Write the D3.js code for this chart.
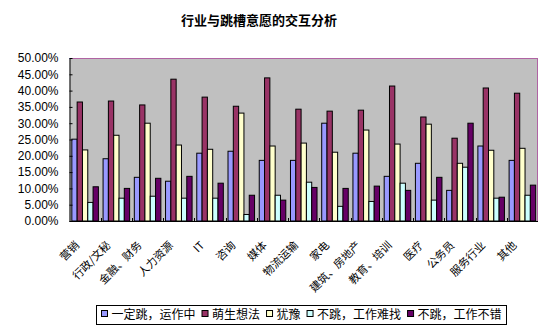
<!DOCTYPE html>
<html><head><meta charset="utf-8">
<script src="https://cdn.jsdelivr.net/npm/d3@7"></script>
<style>html,body{margin:0;padding:0;background:#fff;}svg{display:block;}</style>
</head><body>
<svg id="chart" width="554" height="335"></svg>
<script>
const title = "行业与跳槽意愿的交互分析";
const categories = ["营销","行政/文秘","金融、财务","人力资源","IT","咨询","媒体","物流运输","家电","建筑、房地产","教育、培训","医疗","公务员","服务行业","其他"];
const seriesNames = ["一定跳，运作中","萌生想法","犹豫","不跳，工作难找","不跳，工作不错"];
const seriesColors = ["#9999FF","#993366","#FFFFCC","#CCFFFF","#660066"];
const s1 = [25.1,19.1,13.4,12.2,20.8,21.4,18.6,18.6,30.0,20.8,13.7,17.7,9.4,23.0,18.6];
const s2 = [36.5,36.8,35.6,43.5,38.0,35.2,43.9,34.3,33.7,34.0,41.4,31.9,25.4,40.8,39.2];
const s3 = [21.8,26.3,30.0,23.3,22.0,33.1,23.0,23.9,21.1,27.9,23.6,29.7,17.7,21.7,22.3];
const s4 = [5.7,7.0,7.6,7.0,7.0,2.0,7.9,11.9,4.5,6.0,11.6,6.4,16.5,7.0,7.9];
const s5 = [10.5,10.0,13.1,13.7,11.6,7.9,6.4,10.3,10.0,10.7,9.4,13.4,30.0,7.3,11.0];
const seriesValues = [s1,s2,s3,s4,s5];
const yTicks = [0,5,10,15,20,25,30,35,40,45,50];

const svg = d3.select("#chart");
const L = 69.5, R = 538, T = 58, B = 221;

svg.append("text").attr("x", 259).attr("y", 25).attr("text-anchor","middle")
  .attr("font-family","'Noto Sans CJK SC', sans-serif").attr("font-size",13).attr("font-weight","bold")
  .text(title);

const y = d3.scaleLinear().domain([0,50]).range([B,T]);
const x0 = d3.scaleBand().domain(categories).range([L,R]).paddingInner(0.15).paddingOuter(0.075);
const x1 = d3.scaleBand().domain(seriesNames).range([0,x0.bandwidth()]);

svg.append("rect").attr("x",L).attr("y",T).attr("width",R-L).attr("height",B-T).attr("fill","#C0C0C0");
// dotted top/right border
const border = `M${L},${T+0.5}H${R-0.5}V${B}`;
svg.append("path").attr("d",border).attr("fill","none").attr("stroke","#6666FF").attr("stroke-dasharray","1,1");
svg.append("path").attr("d",border).attr("fill","none").attr("stroke","#CC3366").attr("stroke-dasharray","1,1").attr("stroke-dashoffset",1);

// bars
const g = svg.append("g");
categories.forEach((c,i)=>{
  seriesNames.forEach((s,j)=>{
    const v = seriesValues[j][i];
    g.append("rect")
      .attr("x", x0(c)+x1(s)).attr("y", y(v))
      .attr("width", x1.bandwidth()).attr("height", B - y(v))
      .attr("fill", seriesColors[j]).attr("stroke","#000").attr("stroke-width",1);
  });
});

// y axis
const yAxis = d3.axisLeft(y).tickValues(yTicks).tickSizeInner(-3).tickSizeOuter(0)
  .tickFormat(d=>d.toFixed(2)+"%").tickPadding(11);
const ya = svg.append("g").attr("transform",`translate(${L},0)`).call(yAxis);
ya.select(".domain").attr("stroke","#000");
ya.selectAll(".tick line").attr("stroke","#000");
ya.selectAll("text").attr("font-family","'Liberation Sans', Arial, sans-serif").attr("font-size",12).attr("fill","#000");

// x axis line and ticks at category boundaries
svg.append("line").attr("x1",L).attr("x2",R).attr("y1",B+0.5).attr("y2",B+0.5).attr("stroke","#000");
const step = x0.step();
for (let k=1;k<categories.length;k++){
  const xx = Math.round(L + k*step)+0.5;
  svg.append("line").attr("x1",xx).attr("x2",xx).attr("y1",B-3).attr("y2",B).attr("stroke","#000");
}
// x labels
categories.forEach((c)=>{
  const cx = x0(c) + x0.bandwidth()/2;
  svg.append("text")
    .attr("transform",`translate(${cx-5},${246}) rotate(-45)`)
    .attr("text-anchor","end")
    .attr("font-family","'Noto Sans CJK SC', sans-serif").attr("font-size",11)
    .text(c);
});

// legend
const lg = svg.append("g");
lg.append("rect").attr("x",96.5).attr("y",305.5).attr("width",410).attr("height",19).attr("fill","#fff").attr("stroke","#000");
let lx = 101.5;
seriesNames.forEach((s,j)=>{
  lg.append("rect").attr("x",lx).attr("y",310.5).attr("width",6).attr("height",6).attr("fill",seriesColors[j]).attr("stroke","#000");
  const t = lg.append("text").attr("x",lx+10).attr("y",319).attr("font-family","'Noto Sans CJK SC', sans-serif").attr("font-size",12).text(s);
  lx = lx + 10 + t.node().getComputedTextLength() + 6.5;
});
</script>
</body></html>
